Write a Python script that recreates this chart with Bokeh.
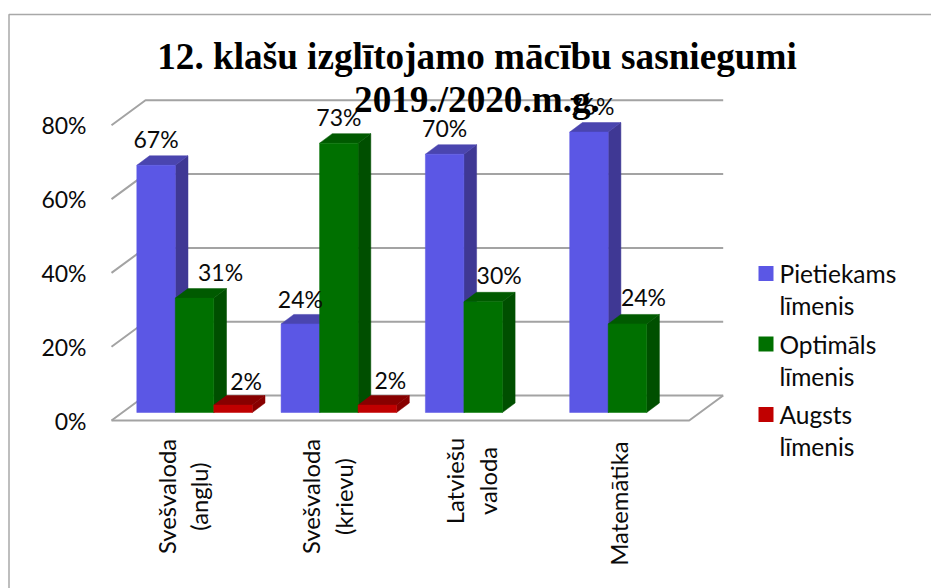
from math import pi
from bokeh.plotting import figure
from bokeh.models import FixedTicker, PrintfTickFormatter, Range1d
from bokeh.embed import file_html
from bokeh.resources import INLINE
from bokeh.core.properties import value

# ---- data ----
categories = ["Svešvaloda\n(angļu)", "Svešvaloda\n(krievu)", "Latviešu\nvaloda", "Matemātika"]
series_names = ["Pietiekams\nlīmenis", "Optimāls\nlīmenis", "Augsts\nlīmenis"]
pietiekams = [67, 24, 70, 76]
optimals = [31, 73, 30, 24]
augsts = [2, 2, None, None]
y_ticks = [0, 20, 40, 60, 80]
title_lines = ["12. klašu izglītojamo mācību sasniegumi", "2019./2020.m.g."]

# ---- styles / layout ----
FRONT = ["#5B57E5", "#007000", "#C00000"]
SIDE = ["#3F3894", "#004F00", "#880000"]
TOP = ["#4A45AF", "#005A00", "#880000"]
GRID = "#A3A3A3"
SANS = "Lato"
W, H = 931, 588
F_B = 420          # pixel row of 0 %
PX_PER_PCT = 3.69
PX_PER_CAT = 144.3
X0_PAGE = 186      # pixel column of category 0

def dx(px): return px / PX_PER_CAT
def dy(px): return px / PX_PER_PCT
def X(px): return (px - X0_PAGE) / PX_PER_CAT
def Y(px): return (F_B - px) / PX_PER_PCT

p = figure(width=W, height=H, output_backend="svg", toolbar_location=None,
           x_range=Range1d(X(0), X(W)), y_range=Range1d(Y(H), Y(0)),
           min_border_left=0, min_border_right=0, min_border_top=0,
           min_border_bottom=0, outline_line_color=None)
p.grid.visible = False
p.xaxis.visible = False

# y axis
ya = p.yaxis[0]
ya.fixed_location = X(105)
ya.ticker = FixedTicker(ticks=y_ticks)
ya.formatter = PrintfTickFormatter(format="%d%%")
ya.axis_line_color = None
ya.major_tick_line_color = None
ya.minor_tick_line_color = None
ya.major_label_standoff = 13
ya.major_label_text_font = SANS
ya.major_label_text_font_size = "23px"
ya.major_label_text_color = "#0A0A0A"

# category labels (rotated, each line centred in its block)
CAT_CENTRES = [496, 496, 480.5, 503]
CAT_SHIFT = [-3.5, -3.5, -3.5, 0]
p.text([i + dx(CAT_SHIFT[i]) for i in range(len(categories))], [Y(c) for c in CAT_CENTRES], text=categories,
       angle=pi / 2, text_align="center", text_baseline="middle", text_font=value(SANS),
       text_font_size="23.8px", text_color="#0A0A0A", text_line_height=1.17)

# chart border
p.line([X(8.5), X(8.5), X(W)], [Y(H), Y(14), Y(14)], line_color="#A8A8A8", line_width=1.5)

# 3-D walls
FLOOR_X0, FLOOR_X1 = X(111), X(688.7)
DEPTH_X, DEPTH_Y = dx(34), dy(25)
for t in y_ticks:
    p.line([FLOOR_X0, FLOOR_X0 + DEPTH_X, FLOOR_X1 + DEPTH_X],
           [t, t + DEPTH_Y, t + DEPTH_Y], line_color=GRID, line_width=2)
p.line([FLOOR_X0, FLOOR_X1, FLOOR_X1 + DEPTH_X], [0, 0, DEPTH_Y], line_color=GRID, line_width=2)

# 3-D bars
series = [pietiekams, optimals, augsts]
BAR_W = dx(38.5)
BAR_START = dx(136.3 - X0_PAGE)
BASE = dy(8)
SIDE_X, SIDE_Y = dx(12.7), dy(9.5)
for j, vals in enumerate(series):
    for i, v in enumerate(vals):
        if v is None:
            continue
        l = i + BAR_START + j * BAR_W
        r = l + BAR_W
        b = BASE
        t = BASE + v
        p.patch([r, r + SIDE_X, r + SIDE_X, r], [b, b + SIDE_Y, t + SIDE_Y, t],
                fill_color=SIDE[j], line_color=SIDE[j], line_width=0.5)
        p.patch([l, l + SIDE_X, r + SIDE_X, r], [t, t + SIDE_Y, t + SIDE_Y, t],
                fill_color=TOP[j], line_color=TOP[j], line_width=0.5)
        p.quad(left=l, right=r, bottom=b, top=t, fill_color=FRONT[j], line_color=FRONT[j], line_width=0.5)

# data labels
LABEL_DX = {(0, 1): 26, (2, 1): 16, (3, 1): 16, (0, 2): 13, (1, 2): 13, (3, 0): 3}
LABEL_DY = {(0, 2): 24, (1, 2): 25, (1, 0): 25}
lx, ly, lt = [], [], []
for j, vals in enumerate(series):
    for i, v in enumerate(vals):
        if v is None:
            continue
        lx.append(i + BAR_START + (j + 0.5) * BAR_W + dx(LABEL_DX.get((i, j), 0)))
        ly.append(BASE + v + dy(LABEL_DY.get((i, j), 26.5)))
        lt.append(f"{v}%")
p.text(lx, ly, text=lt, text_align="center", text_baseline="middle",
       text_font=value(SANS), text_font_size="23px", text_color="#0A0A0A")

# title
for k, line in enumerate(title_lines):
    p.text([X(476.5)], [Y(56 + k * 43)], text=[line], text_align="center", text_baseline="middle",
           text_font=value("Liberation Serif"), text_font_style="bold", text_font_size="37.2px",
           text_color="#000000")

# legend
SWATCH_X, SWATCH_S, LEGEND_TEXT_X = 758, 15, 779
LEGEND_TOPS = [273, 343.5, 414]
LINE_GAP = 32
for j, name in enumerate(series_names):
    c = LEGEND_TOPS[j]
    p.quad(left=X(SWATCH_X), right=X(SWATCH_X + SWATCH_S), bottom=Y(c + SWATCH_S / 2), top=Y(c - SWATCH_S / 2),
           fill_color=FRONT[j], line_color=None)
    for k, part in enumerate(name.split("\n")):
        p.text([X(LEGEND_TEXT_X)], [Y(c + k * LINE_GAP)], text=[part], text_align="left", text_baseline="middle",
               text_font=value(SANS), text_font_size="24.5px", text_color="#0A0A0A")

open("out.html", "w").write(file_html(p, INLINE))
